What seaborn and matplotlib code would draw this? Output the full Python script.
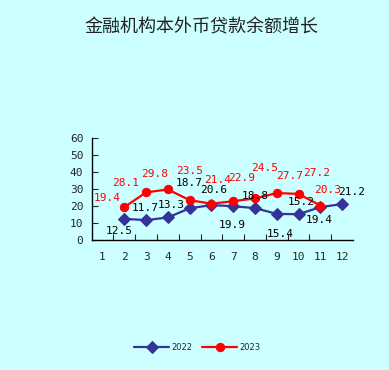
import matplotlib
matplotlib.use('Agg')
import matplotlib.pyplot as plt
import numpy as np
import pandas as pd
import seaborn as sns

# growth of loan balance (%), by month
months = list(range(1, 13))
months_2022 = [2, 3, 4, 5, 6, 7, 8, 9, 10, 11, 12]
growth_2022 = [12.5, 11.7, 13.3, 18.7, 20.6, 19.9, 18.8, 15.4, 15.2, 19.4, 21.2]
months_2023 = [2, 3, 4, 5, 6, 7, 8, 9, 10, 11]
growth_2023 = [19.4, 28.1, 29.8, 23.5, 21.4, 22.9, 24.5, 27.7, 27.2, 20.3]
y_ticks = [0, 10, 20, 30, 40, 50, 60]

# label offsets (data units) so the numbers sit roughly where they do in the original
off_2022 = [(-0.25, -7.0), (-0.06, 7.0), (0.17, 7.3), (0.0, 14.7), (0.08, 8.9), (-0.03, -11.0),
            (0.0, 7.3), (0.14, -11.9), (0.13, 7.3), (-0.03, -7.6), (0.44, 7.3)]
off_2023 = [(-0.77, 5.2), (-0.94, 5.7), (-0.6, 9.1), (0.0, 17.4), (0.3, 14.0), (0.38, 13.9),
            (0.45, 18.2), (0.6, 10.1), (0.82, 12.5), (0.35, 9.2)]

bg = '#CCFFFF'
blue = '#333399'
red = '#FF0000'

sns.set_style('white')
plt.rcParams['font.family'] = ['DejaVu Sans Mono']

df22 = pd.DataFrame({'month': months_2022, 'value': growth_2022})
df23 = pd.DataFrame({'month': months_2023, 'value': growth_2023})

fig = plt.figure(figsize=(3.89, 3.70), dpi=100, facecolor=bg)
ax = fig.add_axes([0.2357, 0.3514, 0.6718, 0.2748])
ax.set_facecolor(bg)

sns.lineplot(data=df22, x='month', y='value', ax=ax, color=blue, marker='D', markersize=6,
             markeredgecolor=blue, linewidth=1.6, label='2022')
sns.lineplot(data=df23, x='month', y='value', ax=ax, color=red, marker='o', markersize=6,
             markeredgecolor=red, linewidth=1.6, label='2023')

for m, v, (dx, dy) in zip(months_2022, growth_2022, off_2022):
    ax.text(m + dx, v + dy, f'{v:.1f}', color='black', fontsize=8, ha='center', va='center',
            clip_on=False)
for m, v, (dx, dy) in zip(months_2023, growth_2023, off_2023):
    ax.text(m + dx, v + dy, f'{v:.1f}', color=red, fontsize=8, ha='center', va='center',
            clip_on=False)

ax.set_xlim(0.5, 12.5)
ax.set_ylim(0, 60)
ax.set_xticks(months)
ax.set_xticks(np.arange(1.5, 12, 1), minor=True)
ax.set_yticks(y_ticks)
ax.tick_params(axis='x', which='major', length=0, pad=9, labelsize=8)
ax.tick_params(axis='x', which='minor', direction='in', length=4, width=0.8, bottom=True)
ax.tick_params(axis='y', direction='in', length=4, width=0.8, left=True, pad=6, labelsize=8)
ax.set_xlabel('')
ax.set_ylabel('')
for s in ['top', 'right']:
    ax.spines[s].set_visible(False)
for s in ['left', 'bottom']:
    ax.spines[s].set_color('black')
    ax.spines[s].set_linewidth(1.0)

leg = ax.legend(loc='center', bbox_to_anchor=(197.5 / 389, 1 - 347.7 / 370),
                bbox_transform=fig.transFigure, ncol=2, frameon=False, fontsize=6,
                handlelength=4.2, handletextpad=0.3, columnspacing=1.1)
for t in leg.get_texts():
    t.set_family('DejaVu Sans')

fig.text(201 / 389, 1 - 27 / 370, '金融机构本外币贷款余额增长', ha='center', va='center',
         fontsize=13, color='#222222', family=['Noto Sans CJK SC', 'DejaVu Sans'])

fig.savefig('out.png', dpi=100, facecolor=bg)
